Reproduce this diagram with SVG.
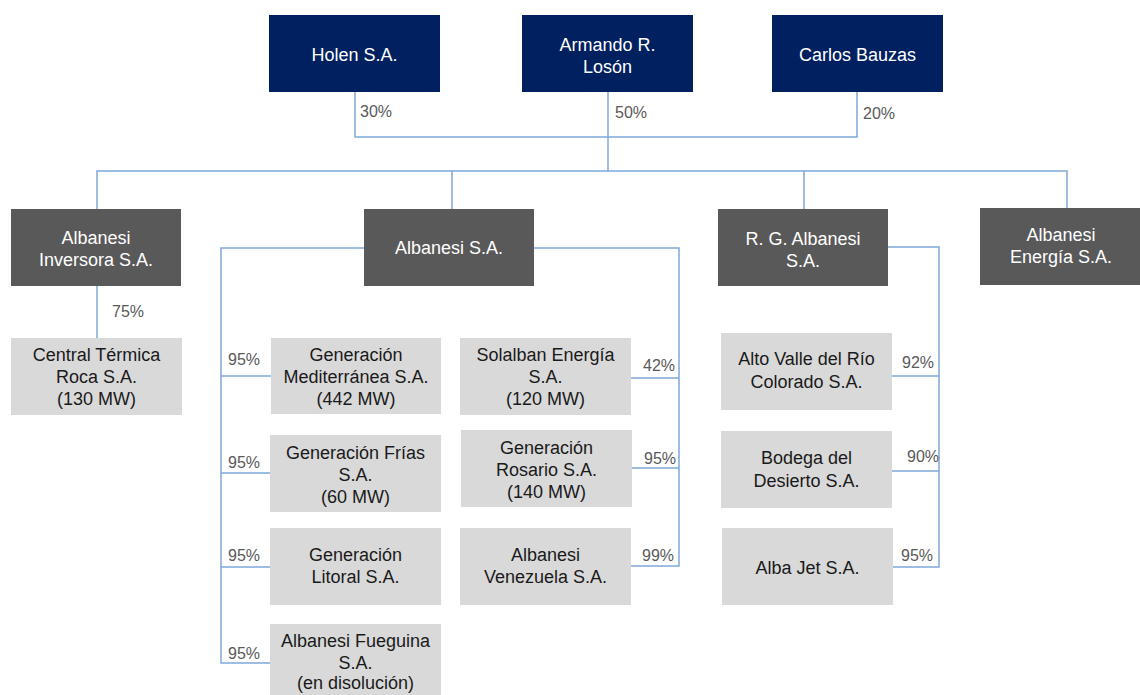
<svg xmlns="http://www.w3.org/2000/svg" width="1140" height="695" viewBox="0 0 1140 695">
<style>
.top{fill:#002060}
.dark{fill:#595959}
.light{fill:#d9d9d9}
.t{font-family:"Liberation Sans",Arial,sans-serif;font-size:18px;text-anchor:middle}
.w{fill:#ffffff}
.b{fill:#1a1a1a}
.p{font-family:"Liberation Sans",Arial,sans-serif;font-size:16px;fill:#595959}
.c{fill:none;stroke:#7ea9d9;stroke-width:1.5}
</style>
<rect width="1140" height="695" fill="#ffffff"/>
<g id="connectors">
<path class="c" d="M355 92V137H857V92"/>
<path class="c" d="M608 92V171"/>
<path class="c" d="M97 209V171H1067V208"/>
<path class="c" d="M452 171V209M804 171V209"/>
<path class="c" d="M97 286V338"/>
<path class="c" d="M364 248H221V663H270M221 376H271M221 473H270M221 567H270"/>
<path class="c" d="M534 248H679V566H631M631 378H679M632 468H679"/>
<path class="c" d="M888 247H939V567H892M891 376H939M891 471H939"/>
</g>
<g id="labels">
<text class="p" x="360" y="117">30%</text>
<text class="p" x="615" y="118">50%</text>
<text class="p" x="863" y="119">20%</text>
<text class="p" x="112" y="317">75%</text>
<text class="p" x="228" y="365">95%</text>
<text class="p" x="228" y="468">95%</text>
<text class="p" x="228" y="561">95%</text>
<text class="p" x="228" y="659">95%</text>
<text class="p" x="643" y="371">42%</text>
<text class="p" x="644" y="464">95%</text>
<text class="p" x="642" y="561">99%</text>
<text class="p" x="902" y="368">92%</text>
<text class="p" x="907" y="462">90%</text>
<text class="p" x="901" y="561">95%</text>
</g>
<g id="holen"><rect class="top" x="269" y="15" width="171" height="77"/><text class="t w" x="354.5" y="61">Holen S.A.</text></g>
<g id="armando"><rect class="top" x="522" y="15" width="171" height="77"/><text class="t w" x="607.5" y="51">Armando R.</text><text class="t w" x="607.5" y="73">Losón</text></g>
<g id="carlos"><rect class="top" x="772" y="15" width="171" height="77"/><text class="t w" x="857.5" y="61">Carlos Bauzas</text></g>
<g id="inversora"><rect class="dark" x="11" y="209" width="170" height="77"/><text class="t w" x="96" y="244">Albanesi</text><text class="t w" x="96" y="266">Inversora S.A.</text></g>
<g id="albanesi"><rect class="dark" x="364" y="209" width="170" height="77"/><text class="t w" x="449" y="254">Albanesi S.A.</text></g>
<g id="rg"><rect class="dark" x="718" y="209" width="170" height="77"/><text class="t w" x="803" y="245">R. G. Albanesi</text><text class="t w" x="803" y="267">S.A.</text></g>
<g id="energia"><rect class="dark" x="980" y="208" width="171" height="77"/><text class="t w" x="1061" y="241">Albanesi</text><text class="t w" x="1061" y="263">Energía S.A.</text></g>
<g id="roca"><rect class="light" x="11" y="338" width="171" height="77"/><text class="t b" x="96.5" y="361">Central Térmica</text><text class="t b" x="96.5" y="383">Roca S.A.</text><text class="t b" x="96.5" y="405">(130 MW)</text></g>
<g id="genmed"><rect class="light" x="271" y="338" width="170" height="76"/><text class="t b" x="356" y="361">Generación</text><text class="t b" x="356" y="383">Mediterránea S.A.</text><text class="t b" x="356" y="405">(442 MW)</text></g>
<g id="genfrias"><rect class="light" x="270" y="435" width="171" height="77"/><text class="t b" x="355.5" y="459">Generación Frías</text><text class="t b" x="355.5" y="481">S.A.</text><text class="t b" x="355.5" y="503">(60 MW)</text></g>
<g id="litoral"><rect class="light" x="270" y="528" width="171" height="77"/><text class="t b" x="355.5" y="561">Generación</text><text class="t b" x="355.5" y="583">Litoral S.A.</text></g>
<g id="fueguina"><rect class="light" x="270" y="624" width="171" height="77"/><text class="t b" x="355.5" y="647">Albanesi Fueguina</text><text class="t b" x="355.5" y="669">S.A.</text><text class="t b" x="355.5" y="689">(en disolución)</text></g>
<g id="solalban"><rect class="light" x="460" y="338" width="171" height="77"/><text class="t b" x="545.5" y="361">Solalban Energía</text><text class="t b" x="545.5" y="383">S.A.</text><text class="t b" x="545.5" y="405">(120 MW)</text></g>
<g id="rosario"><rect class="light" x="461" y="430" width="171" height="77"/><text class="t b" x="546.5" y="454">Generación</text><text class="t b" x="546.5" y="476">Rosario S.A.</text><text class="t b" x="546.5" y="498">(140 MW)</text></g>
<g id="venezuela"><rect class="light" x="460" y="528" width="171" height="77"/><text class="t b" x="545.5" y="561">Albanesi</text><text class="t b" x="545.5" y="583">Venezuela S.A.</text></g>
<g id="altovalle"><rect class="light" x="721" y="333" width="171" height="77"/><text class="t b" x="806.5" y="365">Alto Valle del Río</text><text class="t b" x="806.5" y="388">Colorado S.A.</text></g>
<g id="bodega"><rect class="light" x="721" y="431" width="171" height="77"/><text class="t b" x="806.5" y="464">Bodega del</text><text class="t b" x="806.5" y="487">Desierto S.A.</text></g>
<g id="albajet"><rect class="light" x="722" y="528" width="171" height="77"/><text class="t b" x="807.5" y="574">Alba Jet S.A.</text></g>
</svg>
